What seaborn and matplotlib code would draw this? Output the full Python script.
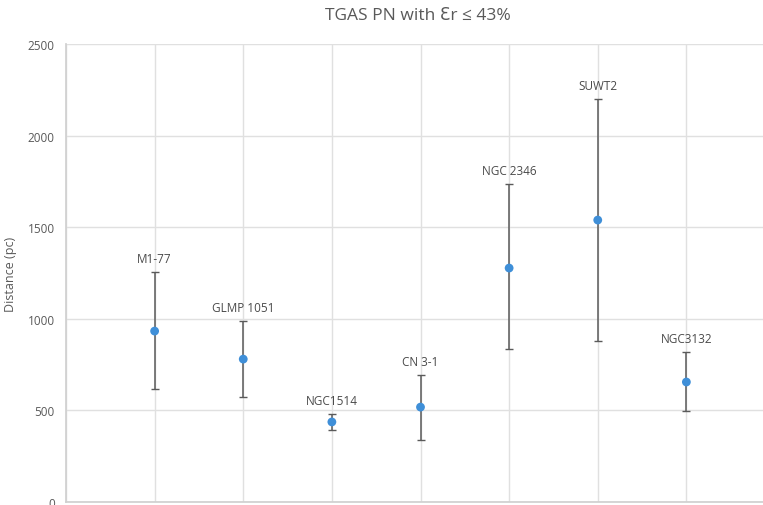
import numpy as np
import pandas as pd
import matplotlib
matplotlib.use('Agg')
import matplotlib.pyplot as plt
import seaborn as sns

# Values
names = ['M1-77', 'GLMP 1051', 'NGC1514', 'CN 3-1', 'NGC 2346', 'SUWT2', 'NGC3132']
distance = [933, 780, 437, 518, 1277, 1539, 655]
upper = [1255, 988, 480, 693, 1736, 2200, 819]
lower = [617, 573, 393, 338, 835, 879, 497]
positions = [1, 2, 3, 4, 5, 6, 7]

df = pd.DataFrame({'name': names, 'x': positions, 'distance': distance,
                   'upper': upper, 'lower': lower})

sns.set_theme(style='white')
plt.rcParams['font.family'] = ['Open Sans', 'DejaVu Sans']

fig = plt.figure(figsize=(7.63, 5.06), dpi=100)
ax = fig.add_axes([66 / 763, 3 / 506, 709 / 763, 458 / 506])

text_col = '#595959'
err = np.array([df['distance'] - df['lower'], df['upper'] - df['distance']])
ax.errorbar(df['x'], df['distance'], yerr=err, fmt='none', ecolor='#5a5a5a',
            elinewidth=1.1, capsize=3, capthick=1.0, zorder=2)
sns.scatterplot(data=df, x='x', y='distance', color='#3f8fd8', s=40,
                edgecolor='none', ax=ax, zorder=3)

for _, r in df.iterrows():
    ax.annotate(r['name'], (r['x'], r['upper']), xytext=(0, 5),
                textcoords='offset points', ha='center', va='bottom',
                fontsize=8.5, color='#4a4a4a')

ax.set_xlim(0, 8)
ax.set_ylim(0, 2500)
ax.set_yticks(range(0, 2501, 500))
ax.set_xticks(range(0, 9))
ax.set_xticklabels([])
ax.grid(True, color='#e0e0e0', linewidth=1)
ax.set_axisbelow(True)
for side in ['top', 'right']:
    ax.spines[side].set_visible(False)
for side in ['left', 'bottom']:
    ax.spines[side].set_color('#d0d0d0')
ax.tick_params(axis='y', length=0, labelsize=8.5, labelcolor=text_col, pad=8)
ax.tick_params(axis='x', length=0)
ax.set_xlabel('')
ax.set_ylabel('Distance (pc)', fontsize=9, color=text_col, labelpad=8)

fig.suptitle('TGAS PN with Ɛr ≤ 43%', x=418 / 763, y=0.985, fontsize=12.5,
             color=text_col)

fig.savefig('out.png', dpi=100)
